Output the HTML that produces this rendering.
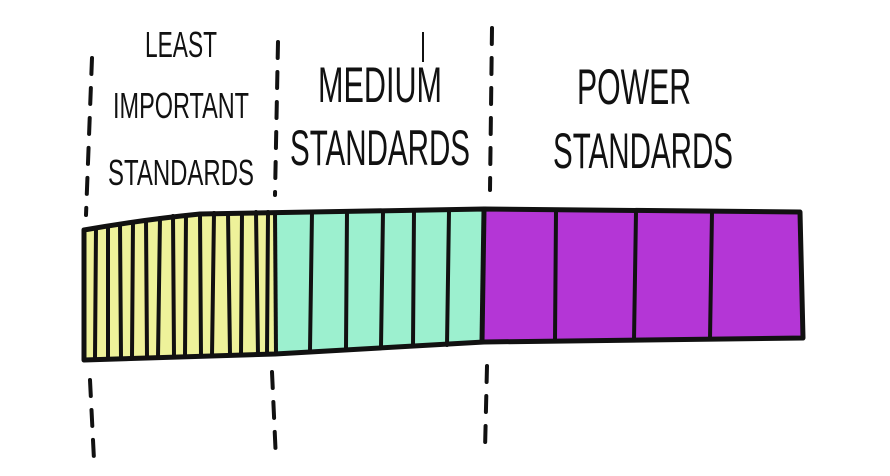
<!DOCTYPE html>
<html><head><meta charset="utf-8"><style>
html,body{margin:0;padding:0;background:#fff;}
svg{display:block;}
text{font-family:"Liberation Sans Narrow","Liberation Sans",sans-serif;fill:#111;}
</style></head><body>
<svg width="890" height="476" viewBox="0 0 890 476" xmlns="http://www.w3.org/2000/svg">
<!-- fills -->
<polygon points="84,230 130,222 180,216 275,212 275,354 84,360" fill="#eef29a"/>
<polygon points="275,212 484,210 484,342 275,354" fill="#9cf0cf"/>
<polygon points="484,210 800,212 803,338 484,342" fill="#b436d6"/>
<!-- stripes yellow -->
<g stroke="#111" stroke-width="4" stroke-linecap="round">
<line x1="96" y1="228" x2="95" y2="358"/>
<line x1="108" y1="226" x2="108" y2="358"/>
<line x1="120" y1="224" x2="121" y2="358"/>
<line x1="133" y1="222" x2="132" y2="357"/>
<line x1="146" y1="220" x2="147" y2="357"/>
<line x1="160" y1="218" x2="158" y2="357"/>
<line x1="173" y1="216" x2="174" y2="356"/>
<line x1="186" y1="215" x2="185" y2="356"/>
<line x1="200" y1="214" x2="201" y2="356"/>
<line x1="214" y1="213" x2="212" y2="356"/>
<line x1="228" y1="213" x2="230" y2="355"/>
<line x1="242" y1="213" x2="241" y2="355"/>
<line x1="256" y1="212" x2="258" y2="355"/>
<line x1="268" y1="212" x2="267" y2="354"/>
<!-- teal -->
<line x1="312" y1="212" x2="310" y2="350"/>
<line x1="347" y1="212" x2="346" y2="348"/>
<line x1="383" y1="212" x2="381" y2="347"/>
<line x1="414" y1="211" x2="413" y2="346"/>
<line x1="449" y1="211" x2="447" y2="345"/>
<!-- purple -->
<line x1="556" y1="212" x2="555" y2="340"/>
<line x1="636" y1="212" x2="634" y2="340"/>
<line x1="712" y1="212" x2="710" y2="339"/>
</g>
<!-- outline -->
<path d="M84,230 Q140,220 200,214 L484,209 L800,212 L803,338 L484,342 L275,354 L84,360 Z" fill="none" stroke="#111" stroke-width="5" stroke-linejoin="round"/>
<line x1="275" y1="212" x2="276" y2="354" stroke="#111" stroke-width="4"/>
<line x1="484" y1="210" x2="482" y2="342" stroke="#111" stroke-width="5"/>
<!-- dashed -->
<g stroke="#111" stroke-width="4" stroke-dasharray="16 14" fill="none" stroke-linecap="round">
<line x1="92" y1="58" x2="86" y2="215"/>
<line x1="90" y1="380" x2="94" y2="460"/>
<line x1="278" y1="42" x2="275" y2="195"/>
<line x1="272" y1="372" x2="276" y2="460"/>
<line x1="492" y1="28" x2="490" y2="190"/>
<line x1="487" y1="366" x2="485" y2="450"/>
</g>
<line x1="423" y1="32" x2="423" y2="62" stroke="#111" stroke-width="2"/>
<!-- text -->
<text x="181" y="57" font-size="36" text-anchor="middle" textLength="72" lengthAdjust="spacingAndGlyphs">LEAST</text>
<text x="181" y="118" font-size="36" text-anchor="middle" textLength="136" lengthAdjust="spacingAndGlyphs">IMPORTANT</text>
<text x="181" y="185" font-size="36" text-anchor="middle" textLength="146" lengthAdjust="spacingAndGlyphs">STANDARDS</text>
<text x="380" y="102" font-size="50" text-anchor="middle" textLength="124" lengthAdjust="spacingAndGlyphs">MEDIUM</text>
<text x="380" y="165" font-size="50" text-anchor="middle" textLength="180" lengthAdjust="spacingAndGlyphs">STANDARDS</text>
<text x="634" y="104" font-size="50" text-anchor="middle" textLength="114" lengthAdjust="spacingAndGlyphs">POWER</text>
<text x="643" y="168" font-size="50" text-anchor="middle" textLength="180" lengthAdjust="spacingAndGlyphs">STANDARDS</text>
</svg>
</body></html>
